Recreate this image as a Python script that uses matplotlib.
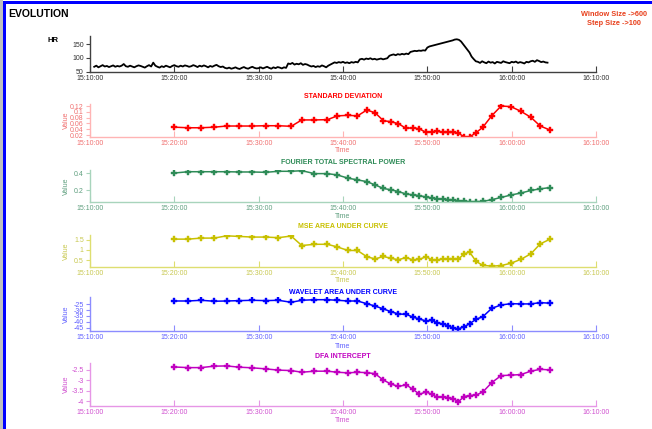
import matplotlib
matplotlib.use("Agg")
import matplotlib.pyplot as plt
import matplotlib.dates as mdates
from matplotlib.patches import Rectangle
import pandas as pd

plt.rcParams['font.family'] = ['Liberation Sans', 'DejaVu Sans']

# ---------------- data ----------------
hr_start = "15:10:30"
hr_values = [
    68, 72, 66, 70, 74, 69, 71, 67, 70, 73, 68, 71, 69, 72,
    78, 70, 68, 72, 69, 66, 70, 73, 71, 68, 65, 70, 74, 69, 83, 72,
    68, 65, 70, 67, 72, 69, 66, 71, 74, 70, 68, 72, 69, 73, 71, 68,
    70, 74, 71, 67, 72, 69, 73, 70, 66, 71, 68, 72, 75, 70, 67, 69,
    64, 62, 65, 61, 63, 66, 62, 60, 64, 67, 63, 61, 65, 68, 64, 62,
    63, 66, 62, 65, 68, 64, 61, 66, 63, 67, 65, 62, 66, 64,
    80, 78, 82, 76, 79, 77, 81, 75, 78, 76,
    72, 69, 71, 67, 70, 68, 73, 70, 66, 72,
    76, 80, 84, 82, 85, 83, 86, 82, 84, 81, 85, 83, 86, 84,
    95, 97, 94, 98, 96, 99, 95, 97, 94, 96, 98, 95, 97, 99,
    108, 111, 113, 110, 114, 112, 115, 113, 116, 114,
    122, 124, 126, 125, 127, 126, 128, 127,
    138, 142, 144, 146,
    148, 150, 152, 154, 156, 158, 160, 162,
    164, 167, 168, 166,
    160, 150, 140, 130,
    120, 105, 96, 88,
    86, 82, 88, 84, 81, 87, 83, 85, 80, 86, 84, 82, 88, 85, 83, 81, 86,
    84, 87, 82, 85, 83, 80, 86, 84, 88, 90, 86, 92, 89, 85, 87, 84, 83,
]

win_times = [
    "15:20:00", "15:21:40", "15:23:10", "15:24:43", "15:26:13", "15:27:43",
    "15:29:15", "15:30:50", "15:32:20", "15:33:51", "15:35:07", "15:36:37",
    "15:38:09", "15:39:20", "15:40:36", "15:41:43", "15:42:49", "15:43:48",
    "15:44:48", "15:45:42", "15:46:34", "15:47:29", "15:48:17", "15:49:04",
    "15:49:51", "15:50:32", "15:51:08", "15:51:50", "15:52:30", "15:53:06",
    "15:53:41", "15:54:22", "15:55:00", "15:55:47", "15:56:35", "15:57:39",
    "15:58:45", "15:59:54", "16:01:05", "16:02:17", "16:03:23", "16:04:34",
]

sd_values = [
    0.047, 0.045, 0.045, 0.047, 0.051, 0.051, 0.051, 0.052, 0.052, 0.050,
    0.072, 0.072, 0.073,
    0.086, 0.088, 0.086, 0.106, 0.097, 0.069, 0.066, 0.059, 0.043, 0.045,
    0.041, 0.029, 0.031, 0.033, 0.029, 0.029, 0.029, 0.026, 0.014, 0.013,
    0.028, 0.047, 0.087, 0.120, 0.118, 0.102, 0.081, 0.051, 0.037,
]

fourier_values = [
    0.403, 0.418, 0.418, 0.418, 0.418, 0.415, 0.415, 0.411, 0.423, 0.423,
    0.430, 0.396, 0.396,
    0.380, 0.343, 0.323, 0.303, 0.265, 0.223, 0.208, 0.188, 0.158, 0.150,
    0.139, 0.124, 0.113, 0.104, 0.101, 0.093, 0.085, 0.081, 0.073, 0.070,
    0.070, 0.073, 0.093, 0.119, 0.147, 0.170, 0.200, 0.219, 0.234,
]

mse_values = [
    1.52, 1.52, 1.57, 1.57, 1.68, 1.65, 1.62, 1.62, 1.59, 1.67,
    1.21, 1.27, 1.27,
    1.14, 0.97, 0.97, 0.67, 0.56, 0.68, 0.59, 0.52, 0.63, 0.51,
    0.54, 0.67, 0.52, 0.51, 0.56, 0.54, 0.56, 0.56, 0.80, 0.90,
    0.44, 0.25, 0.21, 0.24, 0.35, 0.54, 0.81, 1.29, 1.52,
]

wavelet_values = [
    -22.2, -22.2, -21.6, -22.4, -22.2, -21.9, -21.6, -21.9, -21.6, -23.3,
    -21.6, -21.1, -21.1,
    -21.6, -22.2, -22.2, -24.5, -26.5, -29.0, -31.3, -33.3, -33.6, -35.9,
    -37.6, -39.3, -38.7, -40.7, -41.8, -43.3, -45.5, -45.9, -44.2, -41.6,
    -37.8, -35.6, -28.4, -25.6, -24.5, -24.7, -24.7, -23.6, -24.1,
]

dfa_values = [
    -2.36, -2.39, -2.39, -2.32, -2.31, -2.37, -2.40, -2.45, -2.51, -2.53,
    -2.61, -2.56, -2.56,
    -2.61, -2.64, -2.61, -2.63, -2.68, -2.99, -3.17, -3.29, -3.21, -3.42,
    -3.66, -3.55, -3.66, -3.80, -3.79, -3.82, -3.88, -4.01, -3.77, -3.72,
    -3.70, -3.55, -3.10, -2.77, -2.75, -2.72, -2.56, -2.47, -2.50,
]

x_tick_labels = ["15:10:00", "15:20:00", "15:30:00", "15:40:00",
                 "15:50:00", "16:00:00", "16:10:00"]

# ---------------- helpers ----------------
DAY = "2000-01-01 "
W, H = 652, 429
fig = plt.figure(figsize=(W / 100, H / 100), dpi=100)
fig.patch.set_facecolor("white")

# frame decorations
fig.patches.append(Rectangle((0, 0), 3 / W, 1, transform=fig.transFigure,
                             facecolor="#c0c0c0", edgecolor="none"))
fig.patches.append(Rectangle((3 / W, 0), 3 / W, 1 - 1 / H, transform=fig.transFigure,
                             facecolor="#0000ff", edgecolor="none"))
fig.patches.append(Rectangle((3 / W, 1 - 4 / H), 1 - 3 / W, 3 / H,
                             transform=fig.transFigure,
                             facecolor="#0000ff", edgecolor="none"))

xticks = pd.to_datetime([DAY + t for t in x_tick_labels])
xmin, xmax = xticks[0], xticks[-1]
wt = pd.to_datetime([DAY + t for t in win_times])
hr_t = pd.date_range(DAY + hr_start, periods=len(hr_values), freq="15s")

FS = 5


def make_ax(top, bottom, axis_col, label_col, ylim, yticks, yticklabels):
    ax = fig.add_axes([90 / W, 1 - bottom / H, 506 / W, (bottom - top) / H])
    ax.set_facecolor("none")
    for s in ("top", "right"):
        ax.spines[s].set_visible(False)
    for s in ("left", "bottom"):
        ax.spines[s].set_color(axis_col)
        ax.spines[s].set_linewidth(1.0)
    ax.set_xlim(xmin, xmax)
    ax.set_ylim(*ylim)
    ax.set_xticks(xticks)
    ax.set_xticklabels(x_tick_labels)
    ax.set_yticks(yticks)
    ax.set_yticklabels(yticklabels)
    ax.tick_params(axis="x", direction="in", length=4, width=0.8,
                   color=axis_col, labelcolor=label_col, labelsize=FS, pad=2)
    ax.tick_params(axis="y", direction="out", length=3, width=0.8,
                   color=axis_col, labelcolor=label_col, labelsize=FS, pad=1.5)
    return ax


# ---------------- HR ----------------
ax = make_ax(36, 72, "#404040", "#303030", (49, 180), [50, 100, 150],
             ["50", "100", "150"])
ax.plot(hr_t, hr_values, color="black", lw=1.3)
fig.text(47 / W, 1 - 40 / H, "HR", fontsize=5.5, fontweight="bold",
         va="center", ha="left")

fig.text(8 / W, 1 - 14 / H, "EVOLUTION", fontsize=7.5, fontweight="bold",
         va="center", ha="left")
fig.text(614 / W, 1 - 14.5 / H, "Window Size ->600", fontsize=5.3,
         fontweight="bold", color="#e8401c", va="center", ha="center")
fig.text(614 / W, 1 - 23.5 / H, "Step Size ->100", fontsize=5.3,
         fontweight="bold", color="#e8401c", va="center", ha="center")

panels = [
    # values, title, top, bottom, line, axis, label, ylim, ticks, ticklabels, title_y, time_y
    (sd_values, "STANDARD DEVIATION", 104, 137, "#ff0000", "#ffb4b4", "#f07070",
     (0.0131, 0.127), [0.02, 0.04, 0.06, 0.08, 0.1, 0.12],
     ["0.02", "0.04", "0.06", "0.08", "0.1", "0.12"], 97, 151),
    (fourier_values, "FOURIER TOTAL SPECTRAL POWER", 170, 202, "#2e8b57", "#a8d4bc",
     "#5f9f7f", (0.066, 0.438), [0.2, 0.4], ["0.2", "0.4"], 163, 216),
    (mse_values, "MSE AREA UNDER CURVE", 235, 267, "#c8c000", "#dede70", "#c8c850",
     (0.17, 1.72), [0.5, 1, 1.5], ["0.5", "1", "1.5"], 227, 281),
    (wavelet_values, "WAVELET AREA UNDER CURVE", 297, 331, "#0000ff", "#8c8cff",
     "#6060ff", (-47.8, -18.8), [-45, -40, -35, -30, -25],
     ["-45", "-40", "-35", "-30", "-25"], 292, 346),
    (dfa_values, "DFA INTERCEPT", 363, 406, "#c000c0", "#e696e6", "#d050d0",
     (-4.22, -2.17), [-4, -3.5, -3, -2.5], ["-4", "-3.5", "-3", "-2.5"], 356, 420),
]

for (vals, title, top, bot, lc, ac, tc, ylim, yt, ytl, ty, tmy) in panels:
    ax = make_ax(top, bot, ac, tc, ylim, yt, ytl)
    ax.plot(wt, vals, color=lc, lw=1.1, marker="P", markersize=3.8,
            markeredgewidth=0.3, markeredgecolor=lc)
    fig.text(343 / W, 1 - ty / H, title, fontsize=5, fontweight="bold",
             color=lc, ha="center", va="center")
    fig.text(343 / W, 1 - tmy / H, "Time", fontsize=FS, color=tc,
             ha="center", va="center")
    fig.text(66 / W, 1 - ((top + bot) / 2) / H, "Value", fontsize=FS, color=tc,
             ha="center", va="center", rotation=90)

fig.savefig("out.png", dpi=100)
